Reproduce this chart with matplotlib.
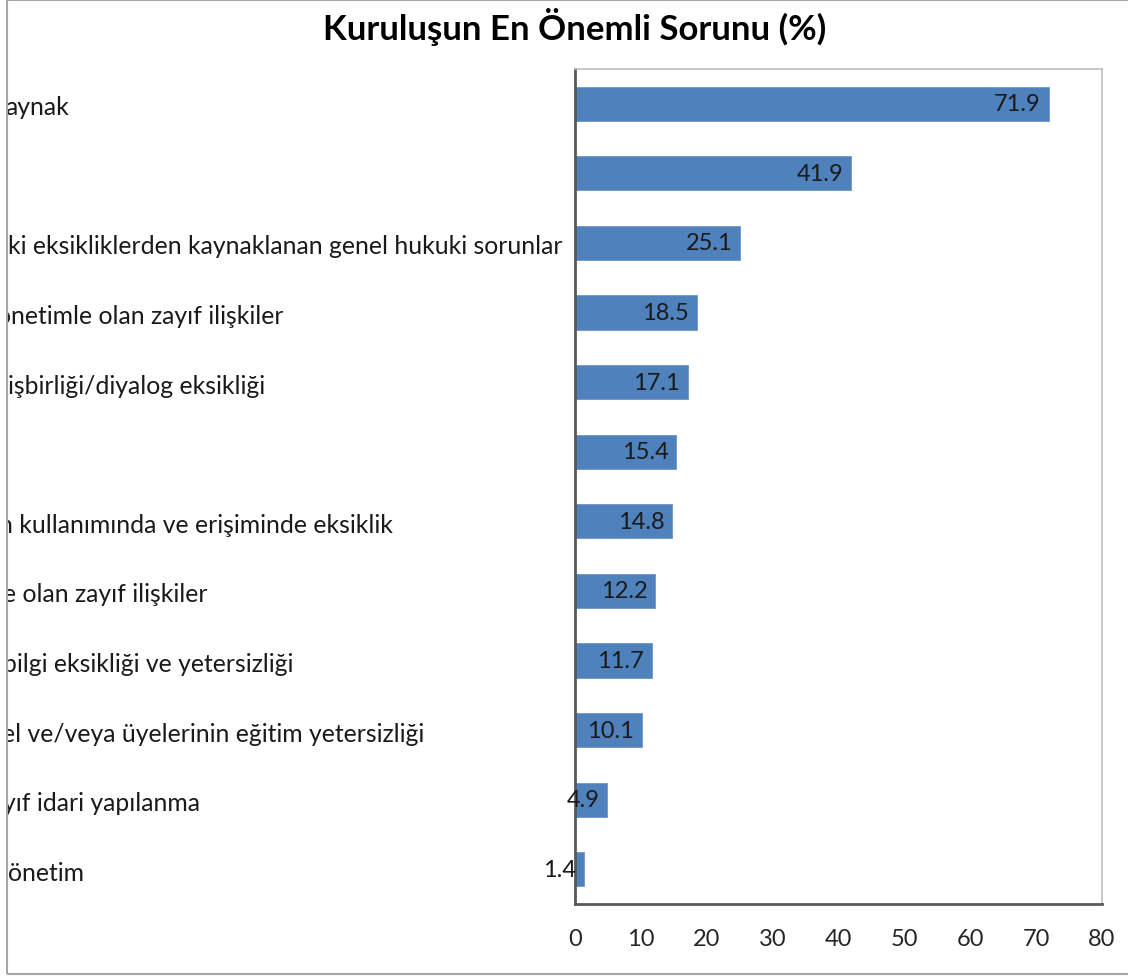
import matplotlib
matplotlib.use("Agg")
import matplotlib.pyplot as plt
from matplotlib.patches import Rectangle
from matplotlib import transforms

plt.rcParams['font.family'] = ['Lato', 'DejaVu Sans']

# Category labels (as shown, cut at the chart edge) and percentages, top to bottom
labels = [
    "aynak",
    "",
    "ki eksikliklerden kaynaklanan genel hukuki sorunlar",
    "önetimle olan zayıf ilişkiler",
    "işbirliği/diyalog eksikliği",
    "",
    "n kullanımında ve erişiminde eksiklik",
    "e olan zayıf ilişkiler",
    "bilgi eksikliği ve yetersizliği",
    "el ve/veya üyelerinin eğitim yetersizliği",
    "yıf idari yapılanma",
    "önetim",
]
values = [71.9, 41.9, 25.1, 18.5, 17.1, 15.4, 14.8, 12.2, 11.7, 10.1, 4.9, 1.4]
# left start of each label in pixels (partly hidden behind the left border)
label_x = [5, 0, 8, -3, 8, 0, -1, 3, 3, 2, 3, 8]
xticks = [0, 10, 20, 30, 40, 50, 60, 70, 80]

W, H = 1128, 979
fig = plt.figure(figsize=(W / 100, H / 100), dpi=100)
ax = fig.add_axes([575 / W, 1 - 905 / H, (1102 - 575) / W, (905 - 70) / H])

pos = list(range(len(values)))
bars = ax.barh(pos, values, height=0.49, color='#4F81BD', edgecolor='#6E96C9', linewidth=0.6)

ax.set_xlim(0, 80)
ax.set_ylim(len(values) - 0.5, -0.5)
ax.set_xticks(xticks)
ax.set_xticklabels([str(t) for t in xticks], fontsize=17, color='#262626')
ax.set_yticks([])
ax.tick_params(axis='x', length=0, pad=17)

for side in ['top', 'right']:
    ax.spines[side].set_color('#BFBFBF')
    ax.spines[side].set_linewidth(1.2)
for side in ['left', 'bottom']:
    ax.spines[side].set_color('#595959')
    ax.spines[side].set_linewidth(2)

# value labels inside the end of each bar
for p, v in zip(pos, values):
    ax.annotate(f"{v:.1f}", xy=(v, p), xytext=(-8, 0), textcoords='offset pixels',
                ha='right', va='center', fontsize=17, color='#1a1a1a',
                annotation_clip=False)

# category labels, left aligned from the chart edge
trans = transforms.blended_transform_factory(fig.transFigure, ax.transData)
for p, lab, lx in zip(pos, labels, label_x):
    ax.annotate(lab, xy=(lx / W, p), xycoords=trans, xytext=(0, -3),
                textcoords='offset pixels', ha='left', va='center',
                fontsize=17.8, color='#1a1a1a', annotation_clip=False)

fig.text(575 / W, 1 - 27 / H, "Kuruluşun En Önemli Sorunu (%)", ha='center', va='center',
         fontsize=25, fontweight='bold', color='black')

# white strip and outer chart border
fig.patches.append(Rectangle((0, 0), 7 / W, 1, transform=fig.transFigure,
                             facecolor='white', edgecolor='none', zorder=10))
fig.patches.append(Rectangle((7 / W, 1 - 975 / H), 2, (975 - 1) / H, transform=fig.transFigure,
                             facecolor='none', edgecolor='#A6A6A6', linewidth=1.5, zorder=11))

fig.savefig("out.png", dpi=100)
